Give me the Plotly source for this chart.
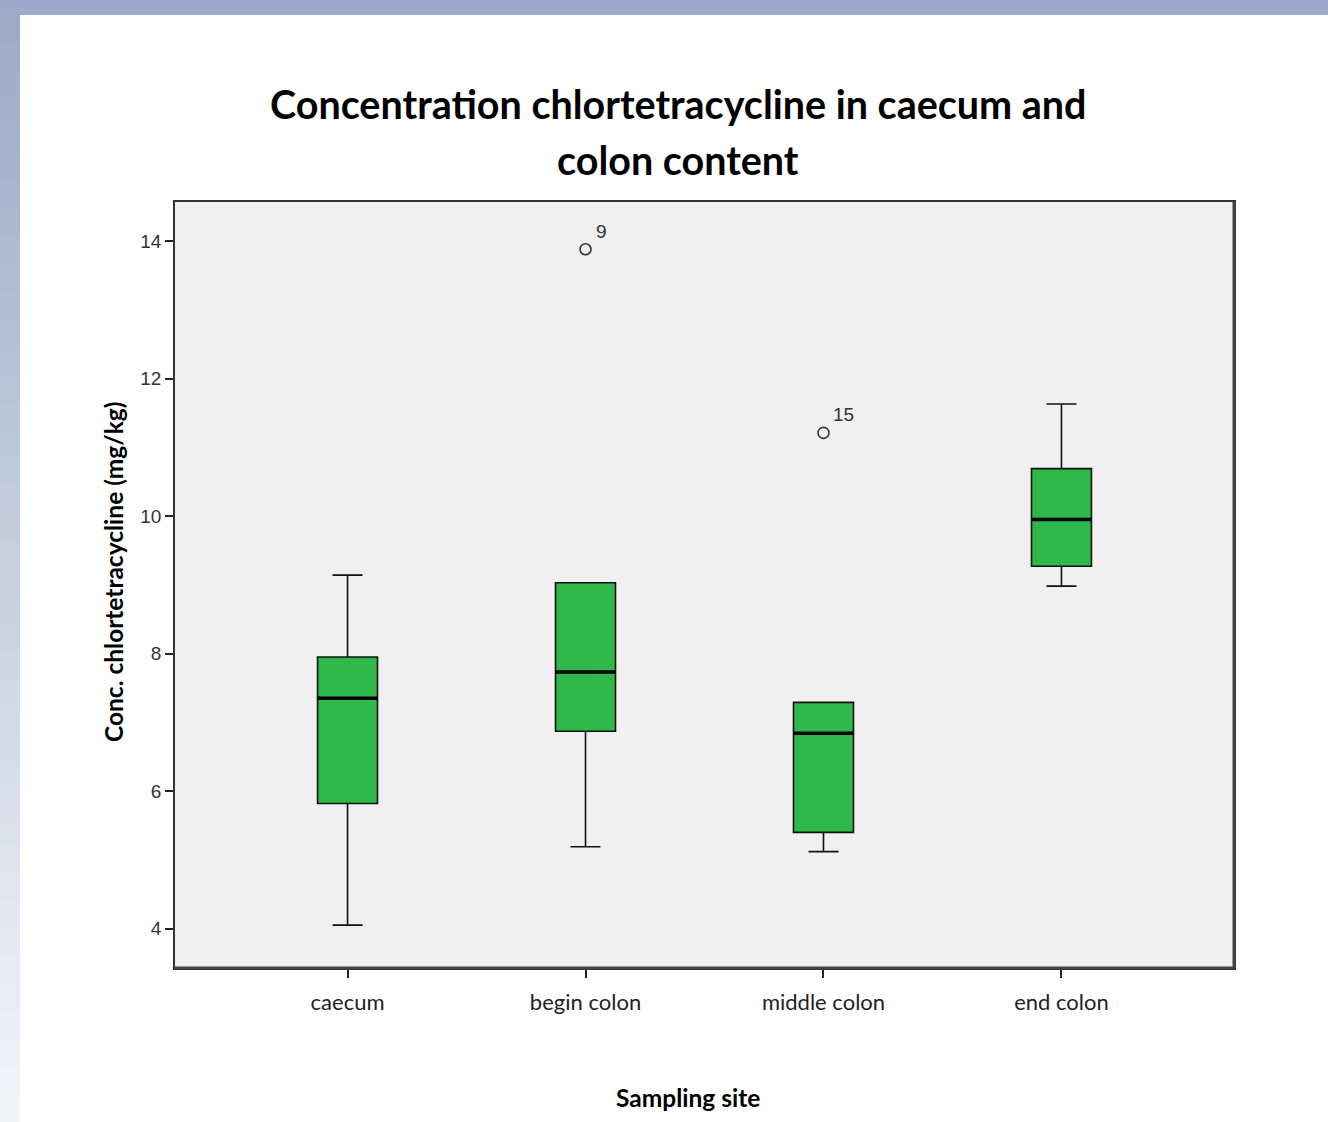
import plotly.graph_objects as go

# ---- data ----
sites = ["caecum", "begin colon", "middle colon", "end colon"]
lower_whisker = [4.05, 5.19, 5.12, 8.98]
q1 = [5.82, 6.87, 5.40, 9.27]
median = [7.35, 7.73, 6.84, 9.95]
q3 = [7.95, 9.03, 7.29, 10.69]
upper_whisker = [9.14, 9.03, 7.29, 11.63]
outlier_site = ["begin colon", "middle colon"]
outlier_value = [13.88, 11.21]
outlier_case = ["9", "15"]
y_ticks = [4, 6, 8, 10, 12, 14]

title_lines = ["Concentration chlortetracycline in caecum and", "colon content"]
y_title = "Conc. chlortetracycline (mg/kg)"
x_title = "Sampling site"

# ---- geometry / style ----
W, H = 1328, 1122
L, R, T, B = 175, 1234, 202, 968
BOX_W = 0.252
GREEN = "#2EB84A"
PLOT_BG = "#F0F0F0"

pos = list(range(len(sites)))


def px_x(p):
    return (p - L) / (R - L)


def px_y(p):
    return (B - p) / (B - T)


fig = go.Figure()

fig.add_trace(go.Box(
    x=pos,
    q1=q1, median=median, q3=q3,
    lowerfence=lower_whisker, upperfence=upper_whisker,
    width=BOX_W,
    whiskerwidth=0.5,
    fillcolor=GREEN,
    line=dict(color="#111111", width=1.6),
    boxpoints=False,
    showlegend=False,
    hoverinfo="skip",
))

# thicker median lines
mx, my = [], []
for i, m in zip(pos, median):
    mx += [i - BOX_W / 2, i + BOX_W / 2, None]
    my += [m, m, None]
fig.add_trace(go.Scatter(
    x=mx, y=my, mode="lines",
    line=dict(color="#000000", width=3.5),
    showlegend=False, hoverinfo="skip",
))

# outliers
ox = [sites.index(s) for s in outlier_site]
fig.add_trace(go.Scatter(
    x=ox, y=outlier_value, mode="markers",
    marker=dict(symbol="circle-open", size=11, color="#333333",
                line=dict(width=1.6, color="#333333")),
    showlegend=False, hoverinfo="skip",
))

annotations = []
for xv, yv, lab in zip(ox, outlier_value, outlier_case):
    annotations.append(dict(
        x=xv, y=yv, xref="x", yref="y", text=lab, showarrow=False,
        xanchor="left", yanchor="middle", xshift=8, yshift=18,
        font=dict(family="Liberation Sans", size=19, color="#333333"),
    ))

# titles
annotations.append(dict(
    x=px_x(678), y=px_y(104), xref="paper", yref="paper",
    text="<b>" + title_lines[0] + "</b>", showarrow=False,
    xanchor="center", yanchor="middle",
    font=dict(family="Lato", size=39.5, color="#000000"),
))
annotations.append(dict(
    x=px_x(678), y=px_y(159), xref="paper", yref="paper",
    text="<b>" + title_lines[1] + "</b>", showarrow=False,
    xanchor="center", yanchor="middle",
    font=dict(family="Lato", size=39.5, color="#000000"),
))
annotations.append(dict(
    x=px_x(113), y=px_y(572), xref="paper", yref="paper",
    text="<b>" + y_title + "</b>", showarrow=False, textangle=-90,
    xanchor="center", yanchor="middle",
    font=dict(family="Lato", size=24.5, color="#000000"),
))
annotations.append(dict(
    x=px_x(688), y=px_y(1097), xref="paper", yref="paper",
    text="<b>" + x_title + "</b>", showarrow=False,
    xanchor="center", yanchor="middle",
    font=dict(family="Lato", size=24.5, color="#000000"),
))

# background frame: top band + left gradient band
shapes = []
top_c = (155, 170, 199)
bot_c = (243, 245, 249)
shapes.append(dict(type="rect", xref="paper", yref="paper", layer="below",
                   x0=px_x(0), x1=px_x(W), y0=px_y(0), y1=px_y(15),
                   fillcolor="rgb(154,170,200)", line=dict(width=0)))
n = 40
for k in range(n):
    y0p = 15 + (H - 15) * k / n
    y1p = 15 + (H - 15) * (k + 1) / n
    f = (k + 0.5) / n
    c = tuple(int(round(a + (b - a) * f)) for a, b in zip(top_c, bot_c))
    shapes.append(dict(type="rect", xref="paper", yref="paper", layer="below",
                       x0=px_x(0), x1=px_x(20), y0=px_y(y0p), y1=px_y(y1p + 1),
                       fillcolor="rgb(%d,%d,%d)" % c, line=dict(width=0)))
# thicker right / bottom frame edges
shapes.append(dict(type="line", xref="paper", yref="paper",
                   x0=1, x1=1, y0=0, y1=1, line=dict(color="#444444", width=3)))
shapes.append(dict(type="line", xref="paper", yref="paper",
                   x0=0, x1=1, y0=0, y1=0, line=dict(color="#444444", width=3)))

fig.update_layout(
    width=W, height=H,
    margin=dict(l=L, r=W - R, t=T, b=H - B, pad=0),
    paper_bgcolor="#FFFFFF",
    plot_bgcolor=PLOT_BG,
    showlegend=False,
    annotations=annotations,
    shapes=shapes,
    xaxis=dict(
        range=[-0.725, 3.725],
        tickmode="array", tickvals=pos, ticktext=sites,
        ticks="outside", ticklen=8, tickwidth=1.5, tickcolor="#222222",
        showline=True, mirror=True, linecolor="#333333", linewidth=1.5,
        showgrid=False, zeroline=False,
        ticklabelstandoff=6,
        tickfont=dict(family="Lato", size=22, color="#222222"),
    ),
    yaxis=dict(
        range=[3.427, 14.567],
        tickmode="array", tickvals=y_ticks,
        ticks="outside", ticklen=8, tickwidth=1.5, tickcolor="#222222",
        showline=True, mirror=True, linecolor="#333333", linewidth=1.5,
        showgrid=False, zeroline=False,
        tickfont=dict(family="Liberation Sans", size=19, color="#333333"),
    ),
)

fig.write_html("out.html")
